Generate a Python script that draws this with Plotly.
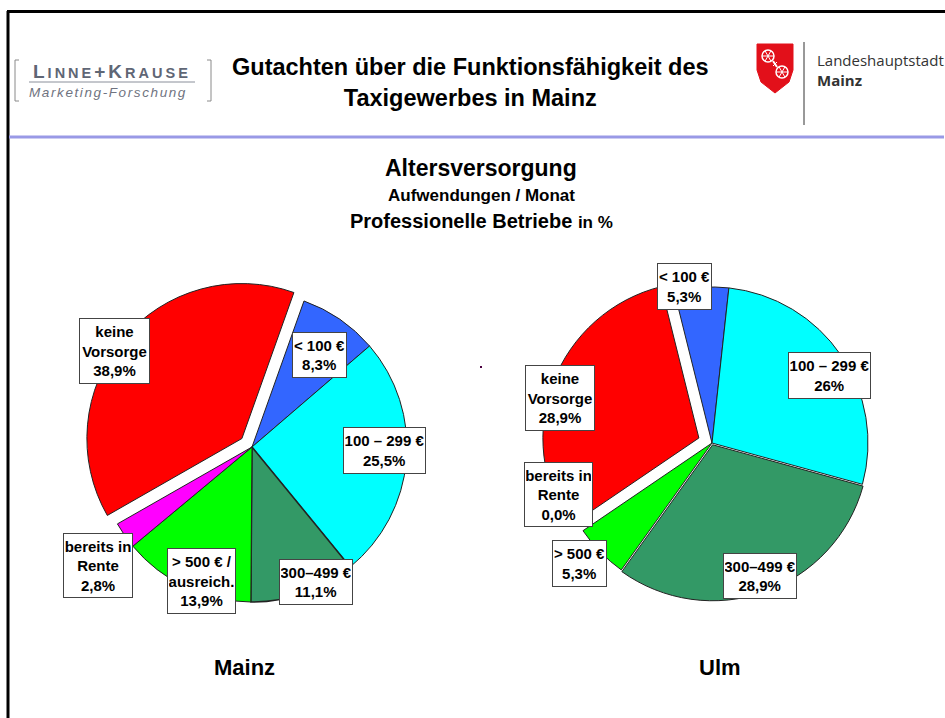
import plotly.graph_objects as go

# ---- data -------------------------------------------------------------
categories = ["< 100 €", "100 – 299 €", "300–499 €", "> 500 €", "bereits in Rente", "keine Vorsorge"]
mainz_values = [8.3, 25.5, 11.1, 13.9, 2.8, 38.9]
ulm_values = [5.3, 26, 28.9, 5.3, 0.0, 28.9]

# box captions (line breaks per chart)
mainz_captions = ["< 100 €", "100 – 299 €", "300–499 €", "> 500 € /<br>ausreich.", "bereits in<br>Rente", "keine<br>Vorsorge"]
ulm_captions = ["< 100 €", "100 – 299 €", "300–499 €", "> 500 €", "bereits in<br>Rente", "keine<br>Vorsorge"]

slice_colors = ["#3366ff", "#00ffff", "#339966", "#00ff00", "#ff00ff", "#ff0000"]

# ---- page geometry helpers -------------------------------------------
W, H = 945, 718
FONT = "Liberation Sans, Arial, sans-serif"


def px(x):
    return x / W


def py(y):
    return 1 - y / H


def pct(v):
    return str(v).replace(".", ",") + "%"


def pie_domain(cx, cy, r, pull):
    half = r * (1 + pull)
    return dict(x=[px(cx - half), px(cx + half)], y=[py(cy + half), py(cy - half)])


fig = go.Figure()

mainz_pull = [0, 0, 0, 0, 0, 0.085]
ulm_pull = [0, 0, 0.012, 0, 0, 0.09]

fig.add_trace(go.Pie(
    labels=categories, values=mainz_values, sort=False, direction="clockwise",
    rotation=19.6, pull=mainz_pull, textinfo="none", hoverinfo="skip",
    marker=dict(colors=slice_colors, line=dict(color="#222222", width=[1, 1, 1.6, 1, 1, 1])),
    domain=pie_domain(252, 447, 155, max(mainz_pull)), showlegend=False,
))
fig.add_trace(go.Pie(
    labels=categories, values=ulm_values, sort=False, direction="clockwise",
    rotation=-14, pull=ulm_pull, textinfo="none", hoverinfo="skip",
    marker=dict(colors=slice_colors, line=dict(color="#222222", width=[1, 1, 1, 1, 0, 1])),
    domain=pie_domain(712, 443, 156, max(ulm_pull)), showlegend=False,
))

annotations = []
shapes = []


def text(x, y, s, size, bold=True, color="black", family=FONT, xanchor="center", align="center"):
    t = f"<b>{s}</b>" if bold else s
    annotations.append(dict(
        x=px(x), y=py(y), xref="paper", yref="paper", text=t, showarrow=False,
        xanchor=xanchor, yanchor="middle", align=align,
        font=dict(family=family, size=size, color=color),
    ))


def box(cx, cy, w, h, s):
    annotations.append(dict(
        x=px(cx), y=py(cy), xref="paper", yref="paper", text=f"<b>{s}</b>",
        showarrow=False, xanchor="center", yanchor="middle", align="center", valign="middle",
        width=w - 4, height=h - 4, borderpad=1, borderwidth=1, bordercolor="#444444",
        bgcolor="white", font=dict(family=FONT, size=15, color="black"),
    ))


def line(x0, y0, x1, y1, color, width):
    shapes.append(dict(type="line", xref="paper", yref="paper",
                       x0=px(x0), y0=py(y0), x1=px(x1), y1=py(y1),
                       line=dict(color=color, width=width)))


# ---- slide frame -----------------------------------------------------
line(7, 11.5, 945, 11.5, "black", 3)
line(8, 11, 8, 718, "black", 3)
line(9, 137, 944, 137, "#9999e6", 3)

# ---- header ----------------------------------------------------------
text(470, 82, "Gutachten über die Funktionsfähigkeit des<br>Taxigewerbes in Mainz", 23.5)

# left logo
big, small = 19, 14.5
annotations.append(dict(
    x=px(112), y=py(71), xref="paper", yref="paper", showarrow=False,
    xanchor="center", yanchor="middle",
    text=(f"<span style='letter-spacing:3px'><b>L<span style='font-size:{small}px'>INNE</span>+K"
          f"<span style='font-size:{small}px'>RAUSE</span></b></span>"),
    font=dict(family=FONT, size=big, color="#5f6675"),
))
line(29, 82, 195, 82, "#8a8f9a", 1)
annotations.append(dict(
    x=px(108), y=py(92), xref="paper", yref="paper", showarrow=False,
    xanchor="center", yanchor="middle",
    text="<span style='letter-spacing:1.6px'><i>Marketing-Forschung</i></span>",
    font=dict(family=FONT, size=13.5, color="#6f7380"),
))
for xv, dx in ((15, 4), (211, -4)):
    line(xv, 60, xv, 101, "#8a8a8a", 1)
    line(xv, 60, xv + dx, 60, "#8a8a8a", 1)
    line(xv, 101, xv + dx, 101, "#8a8a8a", 1)

# right logo: shield with wheels
shield = [(757, 44), (793, 44), (793, 70), (789, 82), (775, 93), (761, 82), (757, 70)]
path = "M " + " L ".join(f"{px(x)},{py(y)}" for x, y in shield) + " Z"
shapes.append(dict(type="path", xref="paper", yref="paper", path=path,
                   fillcolor="#e2101a", line=dict(color="#e2101a", width=1)))
for wx, wy in ((768, 56), (782, 72)):
    r = 6
    shapes.append(dict(type="circle", xref="paper", yref="paper",
                       x0=px(wx - r), x1=px(wx + r), y0=py(wy + r), y1=py(wy - r),
                       line=dict(color="white", width=1.5)))
    for a, b in ((r, 0), (r * 0.5, r * 0.87), (r * 0.5, -r * 0.87)):
        line(wx - a, wy - b, wx + a, wy + b, "white", 1)
line(773, 61, 777, 67, "white", 2)
line(777, 62, 773, 66, "white", 1)
line(804, 42, 804, 125, "#333333", 1)
text(815, 70.5, "Landeshauptstadt<br><b>Mainz</b>", 15, bold=False, color="#333333",
     family="Open Sans, sans-serif", xanchor="left", align="left")

# ---- chart titles ----------------------------------------------------
text(481, 168, "Altersversorgung", 23)
text(481, 195, "Aufwendungen / Monat", 17)
text(481, 221, "Professionelle Betriebe <span style='font-size:17px'>in %</span>", 20)

text(244, 667, "Mainz", 22)
text(720, 667, "Ulm", 22)

# stray mark between the pies
shapes.append(dict(type="rect", xref="paper", yref="paper",
                   x0=px(480), x1=px(482), y0=py(368), y1=py(366),
                   fillcolor="#4b0040", line=dict(width=0)))

# ---- value boxes -----------------------------------------------------
mainz_boxes = [(319.5, 355, 55, 46), (384.5, 450.5, 83, 47), (316, 582, 74, 46),
               (201.5, 581, 69, 66), (98, 565.5, 70, 65), (114.5, 351, 71, 66)]
ulm_boxes = [(684.5, 286.5, 55, 47), (829.5, 375.5, 83, 47), (760, 576, 74, 46),
             (579.5, 563.5, 55, 47), (558.5, 494.5, 69, 65), (560, 398, 70, 66)]

for cap, v, (cx, cy, w, h) in zip(mainz_captions, mainz_values, mainz_boxes):
    box(cx, cy, w, h, f"{cap}<br>{pct(v)}")
for cap, v, (cx, cy, w, h) in zip(ulm_captions, ulm_values, ulm_boxes):
    box(cx, cy, w, h, f"{cap}<br>{pct(v)}")

fig.update_layout(
    width=W, height=H, margin=dict(l=0, r=0, t=0, b=0),
    paper_bgcolor="white", plot_bgcolor="white",
    annotations=annotations, shapes=shapes,
)

fig.write_html("out.html")
